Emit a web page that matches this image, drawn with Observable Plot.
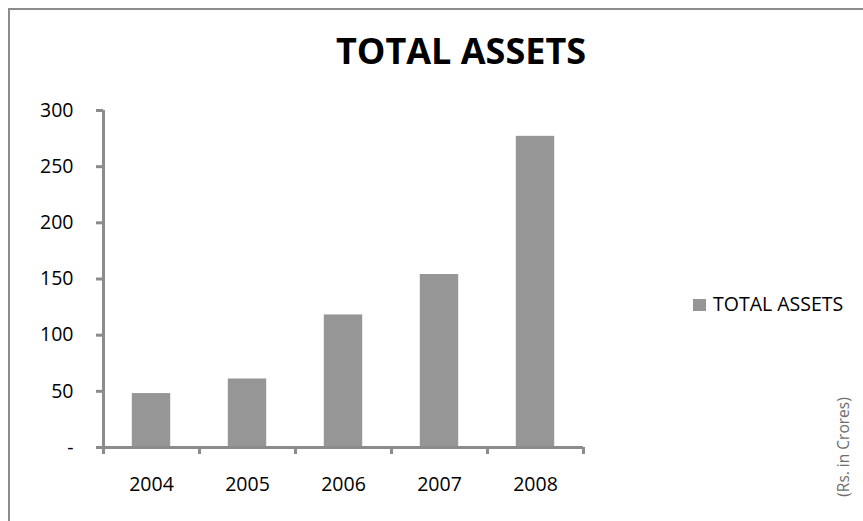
<!DOCTYPE html>
<html><head><meta charset="utf-8">
<script src="https://cdn.jsdelivr.net/npm/d3@7"></script>
<script src="https://cdn.jsdelivr.net/npm/@observablehq/plot@0.6"></script>
<style>
body{margin:0;overflow:hidden;background:#fff;}
#wrap{position:relative;width:863px;height:521px;overflow:hidden;font-family:"Open Sans",sans-serif;color:#000;}
#frame{position:absolute;left:8px;top:8px;width:920px;height:620px;border:2px solid #8c8c8c;box-sizing:border-box;pointer-events:none;}
#title{position:absolute;left:0;top:33px;width:922px;text-align:center;font-size:36px;line-height:1;font-weight:bold;}
#legend{position:absolute;left:693px;top:294px;font-size:19.5px;line-height:1;white-space:nowrap;}
#legend .sw{display:inline-block;width:13px;height:12px;background:#969696;margin-right:7px;vertical-align:0px;}
#note{position:absolute;left:783px;top:437px;width:120px;height:20px;text-align:center;font-size:15.5px;line-height:20px;color:#6e6e6e;transform:rotate(-90deg);white-space:nowrap;}
#chart{position:absolute;left:0;top:0;}
</style>
</head><body>
<div id="wrap">
  <div id="chart"></div>
  <div id="title">TOTAL ASSETS</div>
  <div id="legend"><span class="sw"></span>TOTAL ASSETS</div>
  <div id="note">(Rs. in Crores)</div>
  <div id="frame"></div>
</div>
<script>
const years = ["2004", "2005", "2006", "2007", "2008"];
const totalAssets = [48, 61, 118, 154, 277];
const yTicks = [0, 50, 100, 150, 200, 250, 300];

const data = years.map((year, i) => ({year, i, value: totalAssets[i]}));

const chart = Plot.plot({
  width: 863, height: 521,
  marginLeft: 103, marginRight: 280, marginTop: 110, marginBottom: 74,
  x: {domain: [0, years.length]},
  y: {domain: [0, 300]},
  style: {fontFamily: "Open Sans", fontSize: "19.5px", color: "#000", background: "transparent"},
  marks: [
    Plot.rectY(data, {x1: d => d.i + 0.3, x2: d => d.i + 0.7, y1: 0, y2: "value", fill: "#969696"}),
    Plot.ruleX([0], {stroke: "#8c8c8c", strokeWidth: 3}),
    Plot.ruleY([0], {stroke: "#8c8c8c", strokeWidth: 3}),
    Plot.axisY({ticks: yTicks, tickSize: 7, tickPadding: 23, label: null,
      tickFormat: d => d === 0 ? "-" : String(d), stroke: "#8c8c8c", strokeWidth: 3, fontSize: 19.5}),
    Plot.axisX({ticks: d3.range(years.length + 1), tickSize: 7, label: null,
      tickFormat: () => "", stroke: "#8c8c8c", strokeWidth: 3}),
    Plot.axisX({ticks: years.map((_, i) => i + 0.5), tickSize: 0, tickPadding: 30, label: null,
      tickFormat: v => years[Math.floor(v)], fontSize: 19.5})
  ]
});
document.getElementById("chart").appendChild(chart);
</script>
</body></html>
